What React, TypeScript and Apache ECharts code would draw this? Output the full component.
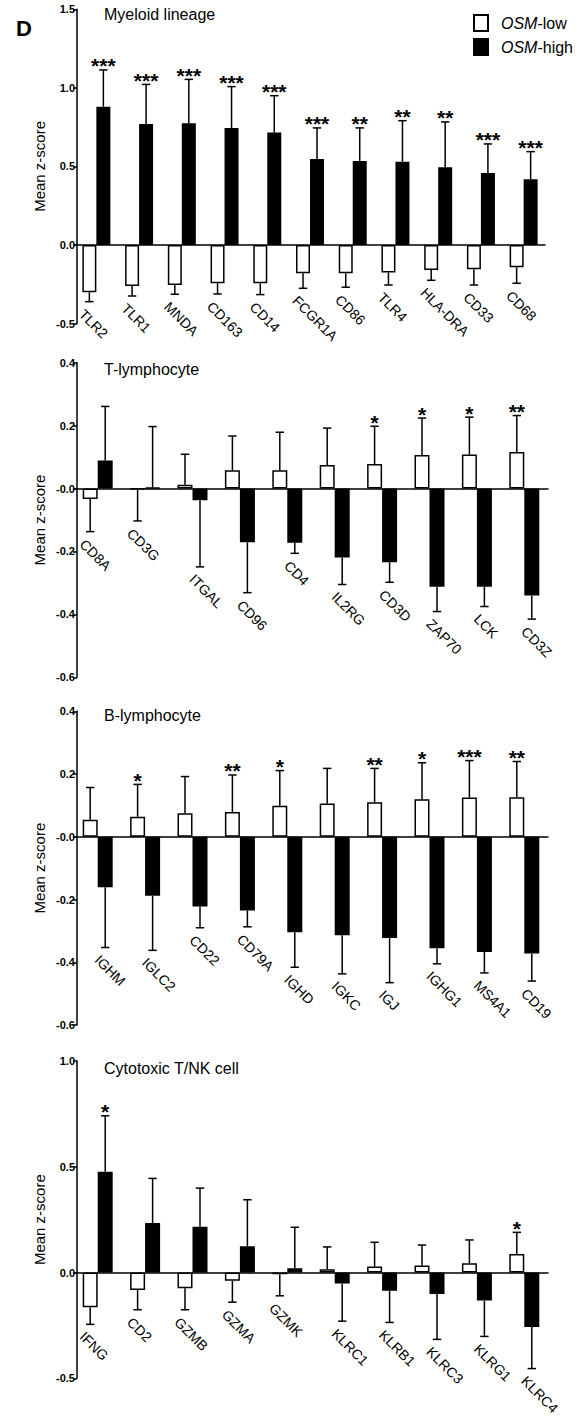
import React, { useEffect, useRef } from "react";
import * as echarts from "echarts";

// ---------- DATA ----------
const P1_CATS = ["TLR2", "TLR1", "MNDA", "CD163", "CD14", "FCGR1A", "CD86", "TLR4", "HLA-DRA", "CD33", "CD68"];
const P1_LOW = [-0.301, -0.261, -0.255, -0.244, -0.244, -0.18, -0.18, -0.176, -0.159, -0.155, -0.142];
const P1_LOW_ERR = [0.06, 0.064, 0.059, 0.068, 0.072, 0.096, 0.089, 0.079, 0.066, 0.1, 0.102];
const P1_HIGH = [0.88, 0.77, 0.774, 0.745, 0.715, 0.547, 0.535, 0.53, 0.494, 0.458, 0.418];
const P1_HIGH_ERR = [0.234, 0.252, 0.28, 0.263, 0.235, 0.198, 0.21, 0.261, 0.289, 0.185, 0.176];
const P1_SIG = ["***", "***", "***", "***", "***", "***", "**", "**", "**", "***", "***"];
const P1_TICKS = ["-0.5", "0.0", "0.5", "1.0", "1.5"];

const P2_CATS = ["CD8A", "CD3G", "ITGAL", "CD96", "CD4", "IL2RG", "CD3D", "ZAP70", "LCK", "CD3Z"];
const P2_LOW = [-0.033, -0.002, 0.012, 0.058, 0.058, 0.075, 0.078, 0.107, 0.108, 0.116];
const P2_LOW_ERR = [0.104, 0.101, 0.097, 0.109, 0.121, 0.117, 0.12, 0.117, 0.119, 0.116];
const P2_HIGH = [0.089, 0.003, -0.037, -0.171, -0.172, -0.219, -0.234, -0.312, -0.312, -0.34];
const P2_HIGH_ERR = [0.172, 0.194, 0.212, 0.16, 0.034, 0.086, 0.064, 0.079, 0.063, 0.075];
const P2_SIG = ["", "", "", "", "", "", "*", "*", "*", "**"];
const P2_TICKS = ["-0.6", "-0.4", "-0.2", "-0.0", "0.2", "0.4"];

const P3_CATS = ["IGHM", "IGLC2", "CD22", "CD79A", "IGHD", "IGKC", "IGJ", "IGHG1", "MS4A1", "CD19"];
const P3_LOW = [0.054, 0.064, 0.075, 0.079, 0.099, 0.106, 0.11, 0.12, 0.125, 0.126];
const P3_LOW_ERR = [0.103, 0.103, 0.117, 0.118, 0.112, 0.112, 0.108, 0.116, 0.118, 0.114];
const P3_HIGH = [-0.161, -0.188, -0.222, -0.235, -0.304, -0.314, -0.323, -0.355, -0.367, -0.372];
const P3_HIGH_ERR = [0.192, 0.174, 0.068, 0.052, 0.112, 0.123, 0.142, 0.05, 0.067, 0.088];
const P3_SIG = ["", "*", "", "**", "*", "", "**", "*", "***", "**"];
const P3_TICKS = ["-0.6", "-0.4", "-0.2", "-0.0", "0.2", "0.4"];

const P4_CATS = ["IFNG", "CD2", "GZMB", "GZMA", "GZMK", "KLRC1", "KLRB1", "KLRC3", "KLRG1", "KLRC4"];
const P4_LOW = [-0.164, -0.082, -0.074, -0.039, -0.008, 0.016, 0.028, 0.033, 0.044, 0.088];
const P4_LOW_ERR = [0.081, 0.094, 0.102, 0.101, 0.102, 0.105, 0.115, 0.097, 0.11, 0.102];
const P4_HIGH = [0.476, 0.234, 0.217, 0.124, 0.02, -0.052, -0.086, -0.102, -0.132, -0.258];
const P4_HIGH_ERR = [0.265, 0.211, 0.182, 0.22, 0.194, 0.178, 0.15, 0.214, 0.17, 0.196];
const P4_SIG = ["*", "", "", "", "", "", "", "", "", "*"];
const P4_TICKS = ["-0.5", "0.0", "0.5", "1.0"];

const SERIES_LOW = "OSM-low";
const SERIES_HIGH = "OSM-high";

// ---------- LAYOUT ----------
const FONT = "'Liberation Sans', Arial, Helvetica, sans-serif";
const PANELS = [
  { title: "Myeloid lineage", cats: P1_CATS, low: P1_LOW, lowErr: P1_LOW_ERR, high: P1_HIGH, highErr: P1_HIGH_ERR, sig: P1_SIG, ticks: P1_TICKS,
    min: -0.5, max: 1.5, interval: 0.5, top: 9.3, height: 314.2, left: 75, width: 470, barW: 14, titleY: 14.8, axisOffset: -2 },
  { title: "T-lymphocyte", cats: P2_CATS, low: P2_LOW, lowErr: P2_LOW_ERR, high: P2_HIGH, highErr: P2_HIGH_ERR, sig: P2_SIG, ticks: P2_TICKS,
    min: -0.6, max: 0.4, interval: 0.2, top: 362.7, height: 314.6, left: 74, width: 474, barW: 15, titleY: 369, axisOffset: -3 },
  { title: "B-lymphocyte", cats: P3_CATS, low: P3_LOW, lowErr: P3_LOW_ERR, high: P3_HIGH, highErr: P3_HIGH_ERR, sig: P3_SIG, ticks: P3_TICKS,
    min: -0.6, max: 0.4, interval: 0.2, top: 711.3, height: 313.7, left: 74, width: 474, barW: 15, titleY: 715.5, axisOffset: -3 },
  { title: "Cytotoxic T/NK cell", cats: P4_CATS, low: P4_LOW, lowErr: P4_LOW_ERR, high: P4_HIGH, highErr: P4_HIGH_ERR, sig: P4_SIG, ticks: P4_TICKS,
    min: -0.5, max: 1.0, interval: 0.5, top: 1061, height: 317.3, left: 74, width: 474, barW: 15, titleY: 1068.5, axisOffset: -3 },
];

const endOf = (m: number, e: number) => (m >= 0 ? m + e : m - e);

function buildOption() {
  const grid: any[] = [];
  const xAxis: any[] = [];
  const yAxis: any[] = [];
  const series: any[] = [];
  const graphic: any[] = [];

  graphic.push({ type: "text", left: 16, top: 17, style: { text: "D", font: `bold 22px ${FONT}`, fill: "#000" } });

  PANELS.forEach((p, i) => {
    grid.push({ left: p.left, top: p.top, width: p.width, height: p.height, containLabel: false });
    xAxis.push({
      type: "category", gridIndex: i, data: p.cats, boundaryGap: true,
      axisLine: { onZero: true, lineStyle: { color: "#000", width: 1.5 } },
      axisTick: { show: false }, axisLabel: { show: false }, splitLine: { show: false },
    });
    yAxis.push({
      type: "value", gridIndex: i, min: p.min, max: p.max, interval: p.interval, offset: p.axisOffset,
      axisLine: { show: true, onZero: false, lineStyle: { color: "#000", width: 1.5 } },
      axisTick: { show: true, length: 4, lineStyle: { color: "#000", width: 1.5 } },
      splitLine: { show: false },
      axisLabel: {
        margin: 2, color: "#000", fontSize: 11, fontWeight: "bold", fontFamily: FONT,
        formatter: (v: number) => p.ticks[Math.round((v - p.min) / p.interval)] ?? "",
      },
    });

    const bw = p.barW;
    series.push({
      name: SERIES_LOW, type: "bar", xAxisIndex: i, yAxisIndex: i, data: p.low, barWidth: bw, barGap: "0%",
      itemStyle: { color: "#fff", borderColor: "#000", borderWidth: 1.5 }, z: 2,
    });
    series.push({
      name: SERIES_HIGH, type: "bar", xAxisIndex: i, yAxisIndex: i, data: p.high, barWidth: bw, barGap: "0%",
      itemStyle: { color: "#000", borderColor: "#000", borderWidth: 1.5 }, z: 2,
    });

    // error bars
    const errData: any[] = [];
    p.cats.forEach((_, k) => {
      errData.push([k, p.low[k], p.lowErr[k], 0]);
      errData.push([k, p.high[k], p.highErr[k], 1]);
    });
    series.push({
      type: "custom", xAxisIndex: i, yAxisIndex: i, data: errData, clip: false, z: 3, silent: true,
      renderItem: (params: any, api: any) => {
        const idx = api.value(0), m = api.value(1), e = api.value(2), side = api.value(3);
        const p0 = api.coord([idx, m]);
        const p1 = api.coord([idx, endOf(m, e)]);
        const x = p0[0] + (side ? 1 : -1) * bw / 2;
        const st = { stroke: "#000", lineWidth: 1.5 };
        return {
          type: "group",
          children: [
            { type: "line", shape: { x1: x, y1: p0[1], x2: x, y2: p1[1] }, style: st },
            { type: "line", shape: { x1: x - 4.2, y1: p1[1], x2: x + 4.2, y2: p1[1] }, style: st },
          ],
        };
      },
    });

    // significance stars
    const starData: any[] = [];
    p.cats.forEach((_, k) => {
      const lowUp = p.low[k] > 0;
      const y = lowUp ? endOf(p.low[k], p.lowErr[k]) : endOf(p.high[k], p.highErr[k]);
      starData.push([k, y, lowUp ? 0 : 1]);
    });
    series.push({
      type: "custom", xAxisIndex: i, yAxisIndex: i, data: starData, clip: false, z: 4, silent: true,
      renderItem: (params: any, api: any) => {
        const txt = p.sig[params.dataIndex];
        if (!txt) return null;
        const pt = api.coord([api.value(0), api.value(1)]);
        const x = pt[0] + (api.value(2) ? 1 : -1) * bw / 2;
        return {
          type: "text", x, y: pt[1] - 4,
          style: { text: txt, fill: "#000", font: `bold 21px ${FONT}`, align: "center", verticalAlign: "middle" },
        };
      },
    });

    // category labels, below the lowest point of each group
    const labData: any[] = [];
    p.cats.forEach((_, k) => {
      const lo = endOf(p.low[k], p.lowErr[k]);
      const hi = endOf(p.high[k], p.highErr[k]);
      labData.push(lo <= hi ? [k, lo, 0] : [k, hi, 1]);
    });
    series.push({
      type: "custom", xAxisIndex: i, yAxisIndex: i, data: labData, clip: false, z: 4, silent: true,
      renderItem: (params: any, api: any) => {
        const pt = api.coord([api.value(0), api.value(1)]);
        const x = pt[0] + (api.value(2) ? 1 : -1) * bw / 2 - 3;
        return {
          type: "text", x, y: pt[1] + 5, rotation: -Math.PI / 4,
          style: { text: p.cats[params.dataIndex], fill: "#000", font: `14px ${FONT}`, align: "left", verticalAlign: "top" },
        };
      },
    });

    // panel title
    graphic.push({
      type: "text", x: 104, y: p.titleY,
      style: { text: p.title, font: `16px ${FONT}`, fill: "#000", align: "left", verticalAlign: "middle" },
    });
    // y axis name
    graphic.push({
      type: "text", x: 39, y: p.top + p.height / 2, rotation: Math.PI / 2,
      style: { text: "Mean z-score", font: `15px ${FONT}`, fill: "#000", align: "center", verticalAlign: "middle" },
    });
  });

  return {
    animation: false,
    backgroundColor: "#fff",
    grid, xAxis, yAxis, series, graphic,
    legend: {
      data: [SERIES_LOW, SERIES_HIGH], orient: "vertical", left: 468, top: 9,
      itemWidth: 14, itemHeight: 16, itemGap: 6, icon: "rect", selectedMode: false,
      formatter: (name: string) => `{i|OSM}{n|${name.replace("OSM", "")}}`,
      textStyle: {
        color: "#000", fontFamily: FONT, fontSize: 16,
        rich: {
          i: { fontStyle: "italic", fontSize: 16, fontFamily: FONT, color: "#000", padding: [0, 0, 0, 8] },
          n: { fontSize: 16, fontFamily: FONT, color: "#000" },
        },
      },
    },
  };
}

export default function App() {
  const ref = useRef<HTMLDivElement>(null);
  useEffect(() => {
    if (!ref.current) return;
    const chart = echarts.init(ref.current, undefined, { renderer: "svg" });
    chart.setOption(buildOption() as any);
    return () => chart.dispose();
  }, []);
  return <div ref={ref} style={{ position: "absolute", left: 0, top: 0, width: 581, height: 1416, background: "#fff" }} />;
}
